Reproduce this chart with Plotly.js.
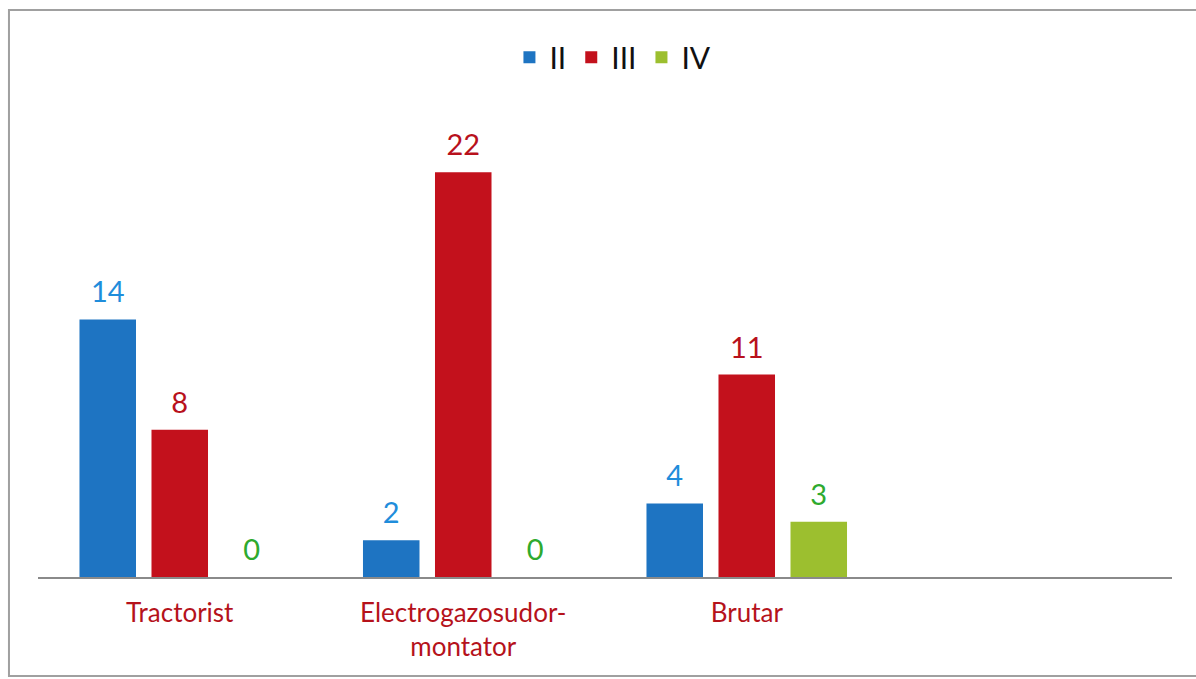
<!DOCTYPE html>
<html>
<head>
<meta charset="utf-8">
<script src="https://cdn.plot.ly/plotly-3.0.1.min.js"></script>
<style>
html,body{margin:0;padding:0;background:#fff;}
#chart{width:1196px;height:679px;}
</style>
</head>
<body>
<div id="chart"></div>
<script>
const categories = ['Tractorist', 'Electrogazosudor-<br>montator', 'Brutar'];
const seriesNames = ['II', 'III', 'IV'];
const valuesII = [14, 2, 4];
const valuesIII = [8, 22, 11];
const valuesIV = [0, 0, 3];

const barColors = ['#1e74c2', '#c3111c', '#9cbf2f'];
const labelColors = ['#1f8ddb', '#b8111c', '#2eaa2e'];
const FONT = 'Lato, "Open Sans", sans-serif';

const allValues = [valuesII, valuesIII, valuesIV];
const bars = allValues.map((vals, i) => ({
  type: 'bar',
  name: seriesNames[i],
  x: categories,
  y: vals,
  offsetgroup: 'g' + i,
  marker: {color: barColors[i]},
  hoverinfo: 'x+y+name'
}));
const labels = allValues.map((vals, i) => ({
  type: 'scatter',
  mode: 'markers+text',
  x: categories,
  y: vals,
  offsetgroup: 'g' + i,
  showlegend: false,
  marker: {size: 14, opacity: 0, color: barColors[i]},
  text: vals.map(String),
  textposition: 'top center',
  textfont: {family: FONT, size: 29, color: labelColors[i]},
  cliponaxis: false,
  hoverinfo: 'skip'
}));

const layout = {
  width: 1196, height: 679,
  margin: {l: 38, r: 24, t: 117, b: 102},
  paper_bgcolor: '#ffffff',
  plot_bgcolor: '#ffffff',
  barmode: 'group',
  scattermode: 'group',
  bargap: 0.238,
  scattergap: 0.238,
  bargroupgap: 0.215,
  showlegend: true,
  legend: {
    orientation: 'h', x: 0.507, xanchor: 'center', y: 1.13, yanchor: 'middle',
    font: {family: FONT, size: 30, color: '#111111'},
    traceorder: 'normal'
  },
  xaxis: {
    type: 'category',
    range: [-0.5, 3.5],
    showline: true, linecolor: '#8a8a8a', linewidth: 2,
    ticks: '', showgrid: false, zeroline: false,
    ticklabelstandoff: 12,
    tickfont: {family: FONT, size: 26, color: '#b5121b'}
  },
  yaxis: {
    range: [0, 25], visible: false, showgrid: false, zeroline: false
  },
  shapes: [{
    type: 'rect', xref: 'paper', yref: 'paper',
    x0: -0.0256, x1: 1.05, y0: -0.215, y1: 1.2326,
    line: {color: '#a0a0a0', width: 2}, fillcolor: 'rgba(0,0,0,0)', layer: 'below'
  }]
};

Plotly.newPlot('chart', bars.concat(labels), layout, {displayModeBar: false, staticPlot: true});
</script>
</body>
</html>
